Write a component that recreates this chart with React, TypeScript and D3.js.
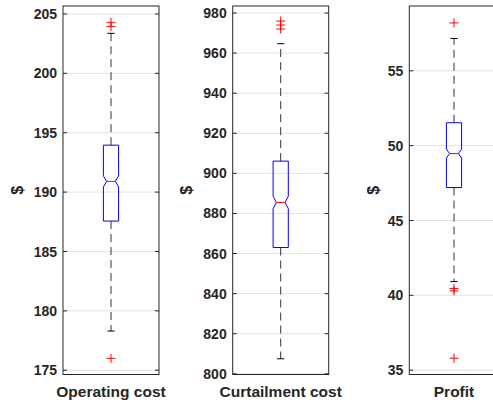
import React from "react";
import * as d3 from "d3";

const categories = ["Operating cost", "Curtailment cost", "Profit"];
const q1 = [187.56, 863.0, 47.2];
const medians = [190.9, 885.5, 49.47];
const q3 = [193.95, 906.1, 51.53];
const notchLo = [190.43, 882.4, 49.17];
const notchHi = [191.37, 888.6, 49.77];
const whiskerLo = [178.3, 807.5, 40.92];
const whiskerHi = [203.37, 964.7, 57.16];
const outliers = [
  [204.3, 203.95, 176.0],
  [976.0, 974.0, 972.0],
  [58.2, 40.45, 40.3, 35.8],
];
const tickValues = [
  [175, 180, 185, 190, 195, 200, 205],
  [800, 820, 840, 860, 880, 900, 920, 940, 960, 980],
  [35, 40, 45, 50, 55],
];
const domains: [number, number][] = [
  [174.64, 205.67],
  [799.65, 983.5],
  [34.71, 59.33],
];
const yLabel = "$";

const W = 493;
const H = 405;
const panels = [
  { left: 63, right: 159, ylabX: 17 },
  { left: 232.7, right: 328.7, ylabX: 186 },
  { left: 409.3, right: 498.7, ylabX: 373 },
];
const TOP = 6;
const BOTTOM = 374.5;
const FONT = "'Liberation Sans', Arial, Helvetica, sans-serif";

function Panel({ i }: { i: number }) {
  const p = panels[i];
  const y = d3.scaleLinear().domain(domains[i]).range([BOTTOM, TOP]);
  const cx = (p.left + p.right) / 2;
  const bw = 7.6;
  const nw = 4.4;
  const cap = 3.6;
  const boxPath = [
    [cx - bw, y(q3[i])],
    [cx + bw, y(q3[i])],
    [cx + bw, y(notchHi[i])],
    [cx + nw, y(medians[i])],
    [cx + bw, y(notchLo[i])],
    [cx + bw, y(q1[i])],
    [cx - bw, y(q1[i])],
    [cx - bw, y(notchLo[i])],
    [cx - nw, y(medians[i])],
    [cx - bw, y(notchHi[i])],
  ];
  const line = d3.line();
  const tl = 4;
  return (
    <g>
      {tickValues[i].map((t) => (
        <line key={"g" + t} x1={p.left} x2={p.right} y1={y(t)} y2={y(t)} stroke="#e3e3e3" strokeWidth={1} />
      ))}
      {tickValues[i].map((t) => (
        <g key={"t" + t}>
          <line x1={p.left} x2={p.left + tl} y1={y(t)} y2={y(t)} stroke="#262626" strokeWidth={1} />
          <line x1={p.right} x2={p.right - tl} y1={y(t)} y2={y(t)} stroke="#262626" strokeWidth={1} />
          <text x={p.left - 6} y={y(t)} dy="0.36em" textAnchor="end" fontSize={14} fontWeight="bold" fill="#262626" fontFamily={FONT}>
            {t}
          </text>
        </g>
      ))}
      <rect x={p.left} y={TOP} width={p.right - p.left} height={BOTTOM - TOP} fill="none" stroke="#262626" strokeWidth={1} />
      <line x1={cx} x2={cx} y1={y(q3[i])} y2={y(whiskerHi[i])} stroke="#333" strokeWidth={1} strokeDasharray="8,5" />
      <line x1={cx} x2={cx} y1={y(q1[i])} y2={y(whiskerLo[i])} stroke="#333" strokeWidth={1} strokeDasharray="8,5" />
      <line x1={cx - cap} x2={cx + cap} y1={y(whiskerHi[i])} y2={y(whiskerHi[i])} stroke="#000" strokeWidth={1} />
      <line x1={cx - cap} x2={cx + cap} y1={y(whiskerLo[i])} y2={y(whiskerLo[i])} stroke="#000" strokeWidth={1} />
      <path d={line(boxPath as [number, number][]) + "Z"} fill="none" stroke="#0000ff" strokeWidth={1} />
      <line x1={cx - nw} x2={cx + nw} y1={y(medians[i])} y2={y(medians[i])} stroke="#ff0000" strokeWidth={1} />
      {outliers[i].map((o, k) => (
        <g key={"o" + k} stroke="#ff0000" strokeWidth={1}>
          <line x1={cx - 4.5} x2={cx + 4.5} y1={y(o)} y2={y(o)} />
          <line x1={cx} x2={cx} y1={y(o) - 4.5} y2={y(o) + 4.5} />
        </g>
      ))}
      <text x={cx} y={397} textAnchor="middle" fontSize={15.5} fontWeight="bold" fill="#262626" fontFamily={FONT}>
        {categories[i]}
      </text>
      <text
        transform={`translate(${p.ylabX},${(TOP + BOTTOM) / 2}) rotate(-90)`}
        dy="0.36em"
        textAnchor="middle"
        fontSize={16}
        fontWeight="bold"
        fill="#262626"
        fontFamily={FONT}
      >
        {yLabel}
      </text>
    </g>
  );
}

export default function App() {
  return (
    <svg width={W} height={H} style={{ position: "absolute", left: 0, top: 0, background: "#fff" }}>
      <rect x={0} y={0} width={W} height={H} fill="#fff" />
      {categories.map((_, i) => (
        <Panel key={i} i={i} />
      ))}
    </svg>
  );
}
